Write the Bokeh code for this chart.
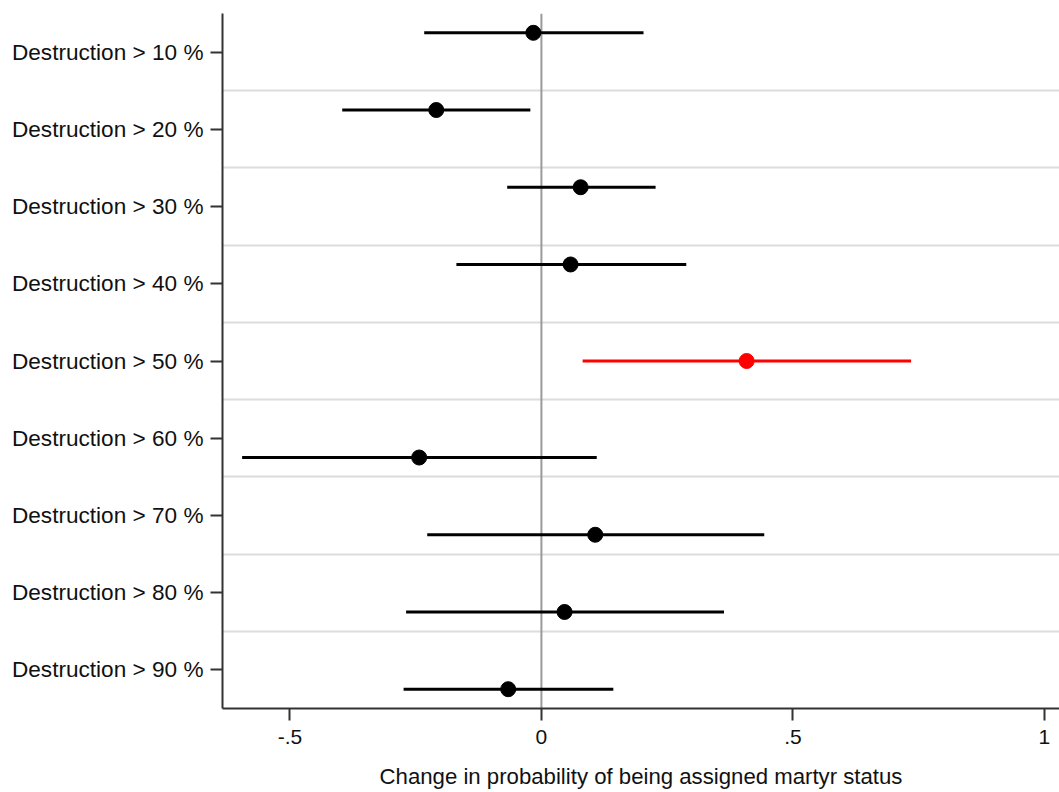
from bokeh.plotting import figure
from bokeh.models import Range1d, FixedTicker, Span, ColumnDataSource
from bokeh.embed import file_html
from bokeh.resources import INLINE

labels = ["Destruction > 10 %", "Destruction > 20 %", "Destruction > 30 %",
          "Destruction > 40 %", "Destruction > 50 %", "Destruction > 60 %",
          "Destruction > 70 %", "Destruction > 80 %", "Destruction > 90 %"]
estimates = [-0.016, -0.209, 0.078, 0.058, 0.408, -0.243, 0.107, 0.046, -0.066]
lower = [-0.233, -0.396, -0.068, -0.169, 0.082, -0.595, -0.227, -0.269, -0.274]
upper = [0.203, -0.022, 0.227, 0.288, 0.735, 0.110, 0.443, 0.363, 0.143]
row_offset = [-0.25, -0.25, -0.25, -0.25, 0.0, 0.25, 0.25, 0.25, 0.25]
colors = ["black", "black", "black", "black", "red", "black", "black", "black", "black"]
x_ticks = [-0.5, 0, 0.5, 1]
x_tick_labels = ["-.5", "0", ".5", "1"]
x_label = "Change in probability of being assigned martyr status"

rows = list(range(1, len(labels) + 1))
ypos = [r + o for r, o in zip(rows, row_offset)]

src = ColumnDataSource(dict(est=estimates, lo=lower, hi=upper, y=ypos, color=colors))

FONT = "Liberation Sans"

p = figure(width=1059, height=792, output_backend="svg", toolbar_location=None,
           x_range=Range1d(-0.634, 1.030), y_range=Range1d(len(labels) + 0.5, 0.5),
           min_border_left=222, min_border_right=0, min_border_top=13, min_border_bottom=84)
p.outline_line_color = None
p.background_fill_color = "white"
p.border_fill_color = "white"

p.xgrid.visible = False
p.ygrid.ticker = FixedTicker(ticks=[r + 0.5 for r in rows[:-1]])
p.ygrid.grid_line_color = "#dcdcdc"
p.ygrid.grid_line_width = 2

zero = Span(location=0, dimension="height", line_color="#9a9a9a", line_width=2, level="underlay")
p.add_layout(zero)

p.segment(x0="lo", x1="hi", y0="y", y1="y", line_color="color", line_width=3, source=src)
p.scatter(x="est", y="y", size=15, fill_color="color", line_color="color", source=src)

# y axis
p.yaxis.ticker = FixedTicker(ticks=rows)
p.yaxis.major_label_overrides = {r: l for r, l in zip(rows, labels)}
p.yaxis.minor_tick_line_color = None
p.yaxis.major_tick_in = 0
p.yaxis.major_tick_out = 12
p.yaxis.major_tick_line_width = 2
p.yaxis.major_tick_line_color = "#333333"
p.yaxis.axis_line_width = 2
p.yaxis.axis_line_color = "#333333"
p.yaxis.major_label_text_font = FONT
p.yaxis.major_label_text_font_size = "22.6px"
p.yaxis.major_label_text_color = "#111111"
p.yaxis.major_label_standoff = 7

# x axis
p.xaxis.ticker = FixedTicker(ticks=x_ticks)
p.xaxis.major_label_overrides = {t: l for t, l in zip(x_ticks, x_tick_labels)}
p.xaxis.minor_tick_line_color = None
p.xaxis.major_tick_in = 0
p.xaxis.major_tick_out = 12
p.xaxis.major_tick_line_width = 2
p.xaxis.major_tick_line_color = "#333333"
p.xaxis.axis_line_width = 2
p.xaxis.axis_line_color = "#333333"
p.xaxis.major_label_text_font = FONT
p.xaxis.major_label_text_font_size = "21px"
p.xaxis.major_label_text_color = "#111111"
p.xaxis.major_label_standoff = 9
p.xaxis.axis_label = x_label
p.xaxis.axis_label_text_font = FONT
p.xaxis.axis_label_text_font_size = "22.2px"
p.xaxis.axis_label_text_font_style = "normal"
p.xaxis.axis_label_text_color = "#111111"
p.xaxis.axis_label_standoff = 17

open("out.html", "w").write(file_html(p, INLINE))
